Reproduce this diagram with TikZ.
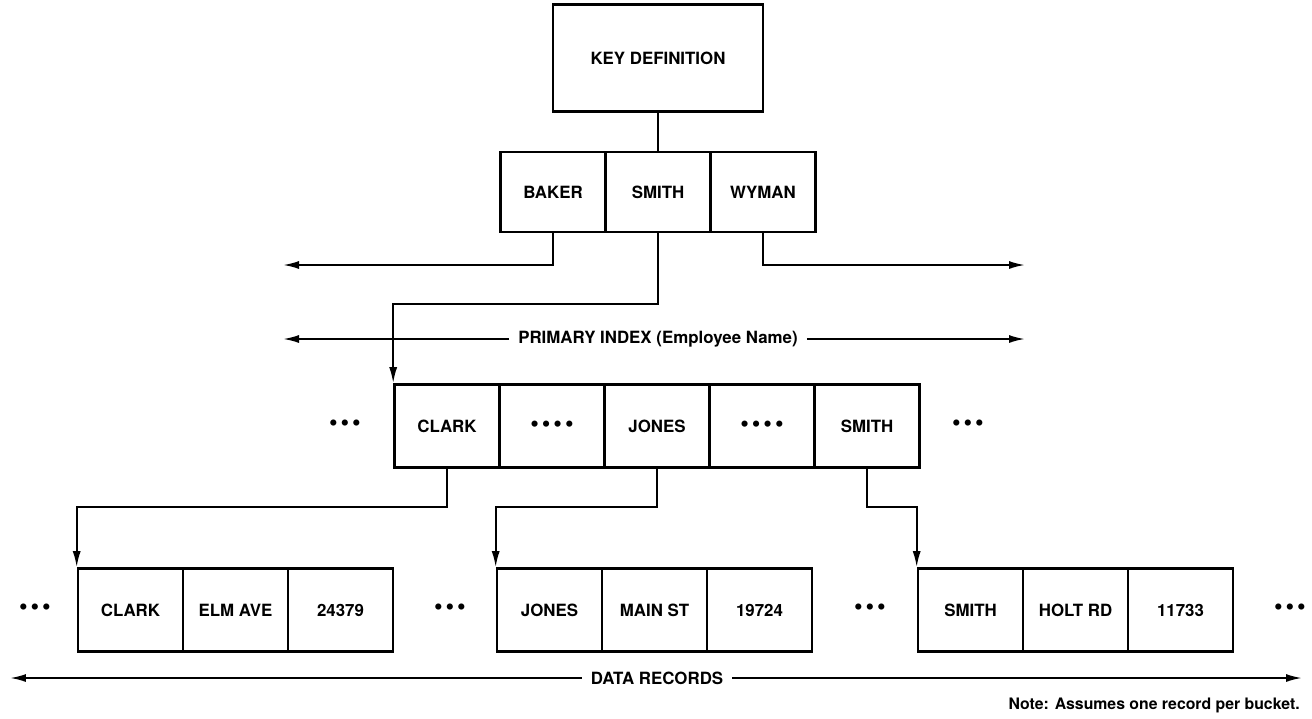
\documentclass[tikz,border=0pt]{standalone}
\usepackage{fontspec}
\setmainfont{TeX Gyre Heros}
\usetikzlibrary{arrows.meta}

\newcommand{\dotsthree}{{\fontsize{14}{14}\selectfont\textbullet\hspace{0.12em}\textbullet\hspace{0.12em}\textbullet}}
\newcommand{\dotsfour}{{\fontsize{14}{14}\selectfont\textbullet\hspace{0.12em}\textbullet\hspace{0.12em}\textbullet\hspace{0.12em}\textbullet}}

\begin{document}
\begin{tikzpicture}[x=0.02cm, y=-0.02cm,
		cell/.style={draw, line width=1.5pt, minimum width=2.1cm, minimum height=1.66cm, inner sep=0pt, font=\bfseries\fontsize{9.6}{11}\selectfont},
		link/.style={line width=1.1pt},
		tip/.style={link, -{Latex[length=0.32cm, width=0.16cm]}},
		lab/.style={inner sep=5pt, font=\bfseries\fontsize{9.6}{11}\selectfont}]
			\useasboundingbox (0,0) rectangle (1312,718);
			% key and primary index
			\node[cell, minimum width=4.2cm, minimum height=2.14cm] (kd) at (658,58) {KEY DEFINITION};
			\foreach \n/\t [count=\i] in {baker/BAKER, tsmith/SMITH, wyman/WYMAN}
				\node[cell, minimum height=1.6cm] (\n) at (448+105*\i, 192) {\t};
			\draw[link] (kd.south) -- (tsmith.north);
			\coordinate (bl) at (283,265);
			\coordinate (wr) at (1025,265);
			\draw[tip] (baker.south) |- (bl);
			\draw[tip] (wyman.south) |- (wr);
			\node[lab] (pi) at (658,339) {PRIMARY INDEX (Employee Name)};
			\coordinate (pl) at (283,339);
			\coordinate (pr) at (1025,339);
			\draw[tip] (pi.west) -- (pl);
			\draw[tip] (pi.east) -- (pr);
			% index buckets
			\foreach \n/\t [count=\i] in {iclark/CLARK, ia/\dotsfour, ijones/JONES, ib/\dotsfour, ismith/SMITH}
				\node[cell] (\n) at (342+105*\i, 426) {\t};
			\foreach \x in {345, 968}
				\node (e\x) at (\x,426) {\dotsthree};
			\draw[tip] (tsmith.south) -- ++(0,71) -| (iclark.north west);
			% data records
			\foreach \a/\b/\c/\x [count=\g] in {CLARK/ELM AVE/24379/78, JONES/MAIN ST/19724/497, SMITH/HOLT RD/11733/918}
			{
				\node[cell] (r\g a) at (\x+52.5,610) {\a};
				\node[cell] (r\g b) at (\x+157.5,610) {\b};
				\node[cell] (r\g c) at (\x+262.5,610) {\c};
			}
			\foreach \x in {35, 450, 870, 1290}
				\node (d\x) at (\x,610) {\dotsthree};
			\draw[tip] (iclark.south) -- ++(0,38) -| (r1a.north west);
			\draw[tip] (ijones.south) -- ++(0,38) -| (r2a.north west);
			\draw[tip] (ismith.south) -- ++(0,38) -| (r3a.north west);
			\node[lab] (dr) at (657,678) {DATA RECORDS};
			\coordinate (dl) at (10,678);
			\coordinate (drr) at (1302,678);
			\draw[tip] (dr.west) -- (dl);
			\draw[tip] (dr.east) -- (drr);
			\node[anchor=east, font=\bfseries\fontsize{9}{10}\selectfont] (note) at (1306,705) {Note: Assumes one record per bucket.};
		\end{tikzpicture}
\end{document}
